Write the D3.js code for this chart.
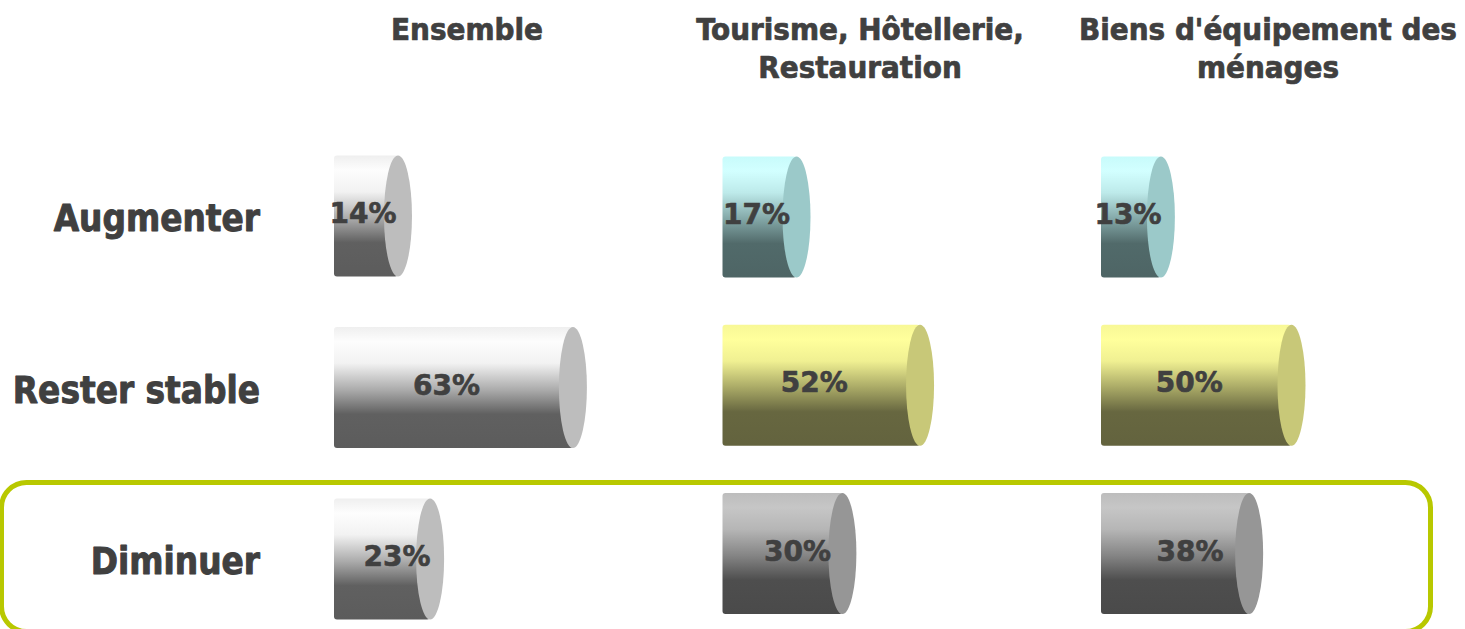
<!DOCTYPE html>
<html>
<head>
<meta charset="utf-8">
<script src="https://cdn.jsdelivr.net/npm/d3@7/dist/d3.min.js"></script>
<style>
  html, body { margin: 0; padding: 0; background: #ffffff; }
  svg { display: block; }
  text { font-family: "DejaVu Sans Condensed", "DejaVu Sans", sans-serif; font-weight: bold; fill: #404040; stroke: #404040; stroke-linejoin: round; }
</style>
</head>
<body>
<svg id="chart" width="1465" height="629"></svg>
<script>
// ---- data ----
const categories = ["Augmenter", "Rester stable", "Diminuer"];
const panelNames = ["Ensemble", "Tourisme, Hôtellerie, Restauration", "Biens d'équipement des ménages"];
const headerLines = [["Ensemble"], ["Tourisme, Hôtellerie,", "Restauration"], ["Biens d'équipement des", "ménages"]];
const ensembleValues = [14, 63, 23];
const tourismeValues = [17, 52, 30];
const biensValues = [13, 50, 38];
const seriesValues = [ensembleValues, tourismeValues, biensValues];

// ---- layout / style ----
const W = 1465, H = 629;
const panelX0 = [348, 736.5, 1115];
const panelXWidth = [357, 353, 353];
const headerX = [467, 860, 1268];
const panelYRange = [[216, 559], [217, 553.5], [217, 553.5]];
const rowLabelYRange = [218, 561];
const barRy = 60.5, capRx = 14;
const labelRowShift = [-10, -14, 8];
const silver = { id: "silver", stops: [[0, "#efefef"], [0.12, "#fdfdfd"], [0.3, "#f2f2f2"], [0.52, "#ababab"], [0.72, "#606060"], [1, "#5c5c5c"]], cap: "#bdbdbd" };
const cyan = { id: "cyan", stops: [[0, "#c8fbfb"], [0.12, "#d2ffff"], [0.3, "#bdeaea"], [0.52, "#82a6a6"], [0.72, "#516a6a"], [1, "#4e6565"]], cap: "#9bc9c9" };
const yellow = { id: "yellow", stops: [[0, "#f8f896"], [0.12, "#ffff9c"], [0.3, "#f0f092"], [0.52, "#a9a966"], [0.72, "#676740"], [1, "#63633e"]], cap: "#c8c878" };
const grey = { id: "grey", stops: [[0, "#bdbdbd"], [0.12, "#c6c6c6"], [0.3, "#b6b6b6"], [0.52, "#848484"], [0.72, "#4e4e4e"], [1, "#4a4a4a"]], cap: "#969696" };
const panelPalettes = [[silver, silver, silver], [cyan, yellow, grey], [cyan, yellow, grey]];

const svg = d3.select("#chart");
const defs = svg.append("defs");
[silver, cyan, yellow, grey].forEach(p => {
  const g = defs.append("linearGradient").attr("id", "grad-" + p.id)
    .attr("x1", 0).attr("y1", 0).attr("x2", 0).attr("y2", 1);
  p.stops.forEach(s => g.append("stop").attr("offset", s[0]).attr("stop-color", s[1]));
});

// highlight frame around "Diminuer"
svg.append("rect")
  .attr("x", 1.5).attr("y", 482.5).attr("width", 1429).attr("height", 149)
  .attr("rx", 25).attr("ry", 25)
  .attr("fill", "none").attr("stroke", "#b8c800").attr("stroke-width", 5);

// row labels
const yLabel = d3.scalePoint().domain(categories).range(rowLabelYRange);
svg.append("g").selectAll("text").data(categories).join("text")
  .attr("x", 260).attr("y", d => yLabel(d) + 13)
  .attr("text-anchor", "end")
  .style("font-size", "36.5px")
  .style("stroke-width", "0.9px")
  .text(d => d);

// panels
panelNames.forEach((name, pi) => {
  const x = d3.scaleLinear().domain([0, 100]).range([panelX0[pi], panelX0[pi] + panelXWidth[pi]]);
  const y = d3.scalePoint().domain(categories).range(panelYRange[pi]);
  const g = svg.append("g");

  // header
  const hdr = g.append("text")
    .attr("x", headerX[pi]).attr("y", 40)
    .attr("text-anchor", "middle")
    .style("font-size", "31px")
    .style("stroke-width", "0.7px");
  headerLines[pi].forEach((line, li) => {
    hdr.append("tspan").attr("x", headerX[pi]).attr("dy", li === 0 ? 0 : 37.5).text(line);
  });

  const rows = categories.map((c, i) => ({ cat: c, value: seriesValues[pi][i], pal: panelPalettes[pi][i], row: i }));

  // body
  g.selectAll("rect.body").data(rows).join("rect")
    .attr("class", "body")
    .attr("x", d => x(0) - capRx)
    .attr("y", d => y(d.cat) - barRy)
    .attr("width", d => x(d.value) - x(0) + capRx)
    .attr("height", barRy * 2)
    .attr("rx", 3).attr("ry", 3)
    .attr("fill", d => "url(#grad-" + d.pal.id + ")");

  // end cap
  g.selectAll("ellipse.cap").data(rows).join("ellipse")
    .attr("class", "cap")
    .attr("cx", d => x(d.value))
    .attr("cy", d => y(d.cat))
    .attr("rx", capRx).attr("ry", barRy)
    .attr("fill", d => d.pal.cap);

  // value labels
  g.selectAll("text.val").data(rows).join("text")
    .attr("class", "val")
    .attr("x", d => (x(0) - capRx + x(d.value) + capRx) / 2 + labelRowShift[d.row])
    .attr("y", d => y(d.cat) + 7)
    .attr("text-anchor", "middle")
    .style("font-family", "'DejaVu Sans', sans-serif")
    .style("font-size", "28px")
    .style("stroke-width", "0.6px")
    .text(d => d.value + "%");
});
</script>
</body>
</html>
